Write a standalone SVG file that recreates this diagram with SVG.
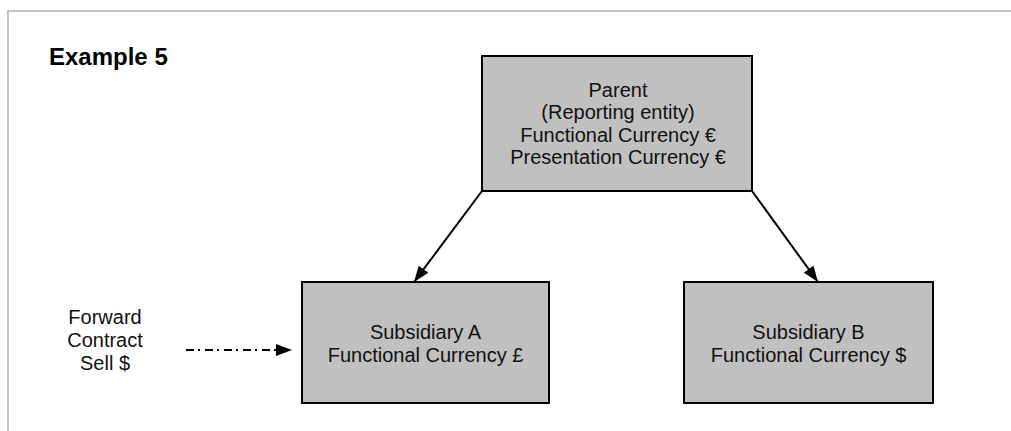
<svg xmlns="http://www.w3.org/2000/svg" width="1011" height="431" viewBox="0 0 1011 431">
<style>
.frame{stroke:#c4c4c4;stroke-width:2;fill:none}
.box{fill:#c0c0c0;stroke:#000;stroke-width:2}
.t{font-family:"Liberation Sans",Arial,sans-serif;font-size:20px;fill:#111;text-anchor:middle}
.title{font-family:"Liberation Sans",Arial,sans-serif;font-size:24px;font-weight:bold;fill:#000}
.conn{stroke:#000;stroke-width:2;fill:none}
.dashdot{stroke-dasharray:8 4 2 5}
</style>
<defs>
<marker id="arrow" viewBox="0 0 16 12" refX="16" refY="6" markerWidth="16" markerHeight="12" markerUnits="userSpaceOnUse" orient="auto">
<path d="M0,0 L16,6 L0,12 z" fill="#000"/>
</marker>
</defs>
<rect width="1011" height="431" fill="#fff"/>
<path class="frame" d="M8,431 L8,11 L1011,11"/>
<text class="title" x="49" y="65">Example 5</text>
<g id="parent">
<rect class="box" x="482" y="56" width="270" height="135"/>
<text class="t" x="618" y="96.5">Parent</text>
<text class="t" x="618" y="119">(Reporting entity)</text>
<text class="t" x="618" y="141.5">Functional Currency €</text>
<text class="t" x="618" y="164">Presentation Currency €</text>
</g>
<g id="subA">
<rect class="box" x="302" y="282" width="247" height="121"/>
<text class="t" x="425.5" y="339">Subsidiary A</text>
<text class="t" x="425.5" y="362">Functional Currency £</text>
</g>
<g id="subB">
<rect class="box" x="684" y="282" width="249" height="121"/>
<text class="t" x="808.5" y="339">Subsidiary B</text>
<text class="t" x="808.5" y="362">Functional Currency $</text>
</g>
<g id="forward">
<text class="t" x="105" y="324">Forward</text>
<text class="t" x="105" y="347">Contract</text>
<text class="t" x="105" y="370">Sell $</text>
</g>
<g id="connectors">
<line class="conn" x1="482" y1="191" x2="414" y2="282" marker-end="url(#arrow)"/>
<line class="conn" x1="752" y1="191" x2="818" y2="282" marker-end="url(#arrow)"/>
<line class="conn dashdot" x1="186" y1="350" x2="292" y2="350" marker-end="url(#arrow)"/>
</g>
</svg>
